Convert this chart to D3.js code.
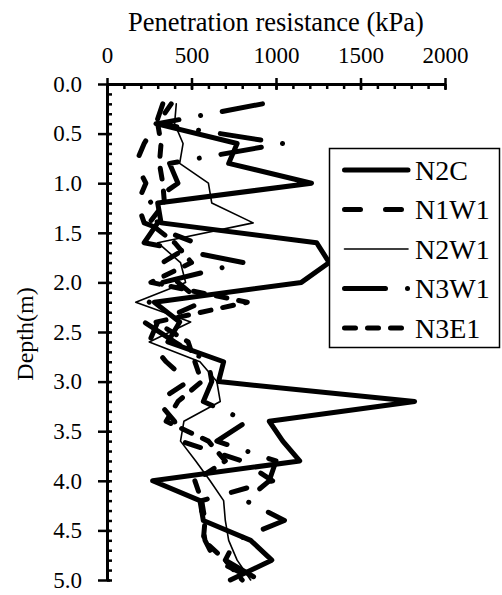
<!DOCTYPE html>
<html>
<head>
<meta charset="utf-8">
<script src="https://cdnjs.cloudflare.com/ajax/libs/d3/7.8.5/d3.min.js"></script>
<style>
  html, body { margin: 0; padding: 0; background: #fff; }
  svg { display: block; }
  text { font-family: "Liberation Serif", "Times New Roman", serif; fill: #000; }
</style>
</head>
<body>
<svg id="chart" width="502" height="595"></svg>
<script>
// Cone penetration profiles: depth (m) against resistance (kPa)
const depths = [0.2, 0.4, 0.6, 0.8, 1.0, 1.2, 1.4, 1.6, 1.8, 2.0, 2.2, 2.4, 2.6,
                2.8, 3.0, 3.2, 3.4, 3.6, 3.8, 4.0, 4.2, 4.4, 4.6, 4.8, 5.0];

const n2c  = [null, 290, 770, 720, 1210, 300, 320, 1240, 1315, 1150, 280, 430, 360,
              690, 660, 1820, 960, 1040, 1140, 270, 550, 570, 850, 975, 730];
const n1w1 = [330, 290, 220, 170, 230, 180, 220, 520, 330, 420, 560, 300, 250,
              350, 480, 300, 400, 435, 800, 980, 560, 560, 580, 640, 880];
const n2w1 = [410, 400, 450, 430, 600, 620, 865, 300, 435, 465, 170, 495, 250,
              550, 650, 670, 455, 435, 525, 610, 690, 700, 720, 770, 850];
const n3w1 = [920, 300, 1040, 370, 420, 250, 300, 220, 806, 330, 250, 220, 400,
              600, 620, 570, 830, 650, 1000, 960, 820, 1050, 760, 700, 900];
const n3e1 = [380, 300, 320, 310, 330, 340, 250, 400, 500, 260, 830, 290, 480,
              520, 560, 420, 350, 600, 700, 520, 560, 580, 570, 700, 800];

const seriesNames = ["N2C", "N1W1", "N2W1", "N3W1", "N3E1"];
const seriesValues = [n2c, n1w1, n2w1, n3w1, n3e1];

const xTicks = [0, 500, 1000, 1500, 2000];
const yTicks = [0, 0.5, 1.0, 1.5, 2.0, 2.5, 3.0, 3.5, 4.0, 4.5, 5.0];

// Line styles per series
const styles = {
  "N2C":  { width: 5,   dash: null },
  "N1W1": { width: 5,   dash: "16,25" },
  "N2W1": { width: 1.6, dash: null },
  "N3W1": { width: 5,   dash: "41,22,0.01,22" },
  "N3E1": { width: 5,   dash: "11,12" }
};

const svg = d3.select("#chart");
const x = d3.scaleLinear().domain([0, 2000]).range([107, 445]);
const y = d3.scaleLinear().domain([0, 5]).range([84, 580]);

// ---- top (value) axis ----
const xMinor = d3.range(0, 2001, 100);
svg.append("g")
  .attr("transform", `translate(0,${y(0)})`)
  .call(d3.axisTop(x).tickValues(xMinor).tickSize(-5).tickSizeOuter(0).tickFormat(""))
  .call(g => g.select(".domain").remove())
  .call(g => g.selectAll("line").attr("stroke", "#000").attr("stroke-width", 2.5));

svg.append("g")
  .attr("class", "x-major")
  .attr("transform", `translate(0,${y(0)})`)
  .call(d3.axisTop(x).tickValues(xTicks).tickSizeInner(6).tickSizeOuter(0)
        .tickPadding(15).tickFormat(d3.format("d")))
  .call(g => g.select(".domain").attr("stroke", "#000").attr("stroke-width", 3))
  .call(g => g.selectAll(".tick line").attr("stroke", "#000").attr("stroke-width", 2.5)
        .attr("y1", 6))
  .call(g => g.selectAll("text").attr("font-size", 23).attr("font-family", null));

// ---- left (depth) axis ----
const yMinor = d3.range(0, 51, 1).map(d => d / 10);
svg.append("g")
  .attr("transform", `translate(${x(0)},0)`)
  .call(d3.axisLeft(y).tickValues(yMinor).tickSize(-5).tickSizeOuter(0).tickFormat(""))
  .call(g => g.select(".domain").remove())
  .call(g => g.selectAll("line").attr("stroke", "#000").attr("stroke-width", 2.5));

svg.append("g")
  .attr("transform", `translate(${x(0)},0)`)
  .call(d3.axisLeft(y).tickValues(yTicks).tickSizeInner(9).tickSizeOuter(0)
        .tickPadding(16).tickFormat(d3.format(".1f")))
  .call(g => g.select(".domain").attr("stroke", "#000").attr("stroke-width", 3))
  .call(g => g.selectAll(".tick line").attr("stroke", "#000").attr("stroke-width", 2.5)
        .attr("x1", 3))
  .call(g => g.selectAll("text").attr("font-size", 23).attr("font-family", null));

// ---- axis titles ----
svg.append("text")
  .attr("x", (x(0) + x(2000)) / 2)
  .attr("y", 31)
  .attr("text-anchor", "middle")
  .attr("font-size", 26.5)
  .text("Penetration resistance (kPa)");

svg.append("text")
  .attr("transform", `translate(33,${(y(0) + y(5)) / 2 + 2}) rotate(-90)`)
  .attr("text-anchor", "middle")
  .attr("font-size", 24)
  .text("Depth(m)");

// ---- profiles ----
const line = d3.line()
  .defined(d => d.v != null)
  .x(d => x(d.v))
  .y(d => y(d.depth));

const plot = svg.append("g").attr("class", "profiles");
seriesNames.forEach((name, i) => {
  const pts = depths.map((depth, j) => ({ depth, v: seriesValues[i][j] }));
  const st = styles[name];
  plot.append("path")
    .datum(pts)
    .attr("d", line)
    .attr("fill", "none")
    .attr("stroke", "#000")
    .attr("stroke-width", st.width)
    .attr("stroke-linejoin", "round")
    .attr("stroke-linecap", "round")
    .attr("stroke-dasharray", st.dash);
});

// ---- legend ----
const legend = svg.append("g").attr("class", "legend");
legend.append("rect")
  .attr("x", 329.5).attr("y", 148.5)
  .attr("width", 170).attr("height", 199)
  .attr("fill", "#fff")
  .attr("stroke", "#000")
  .attr("stroke-width", 1.5);

seriesNames.forEach((name, i) => {
  const cy = 170 + i * 39.5;
  const st = styles[name];
  legend.append("line")
    .attr("x1", 344.5).attr("x2", 408)
    .attr("y1", cy).attr("y2", cy)
    .attr("stroke", "#000")
    .attr("stroke-width", st.width)
    .attr("stroke-linecap", "round")
    .attr("stroke-dasharray", st.dash);
  legend.append("text")
    .attr("x", 415)
    .attr("y", cy + 9.5)
    .attr("font-size", 28)
    .text(name);
});
</script>
</body>
</html>
